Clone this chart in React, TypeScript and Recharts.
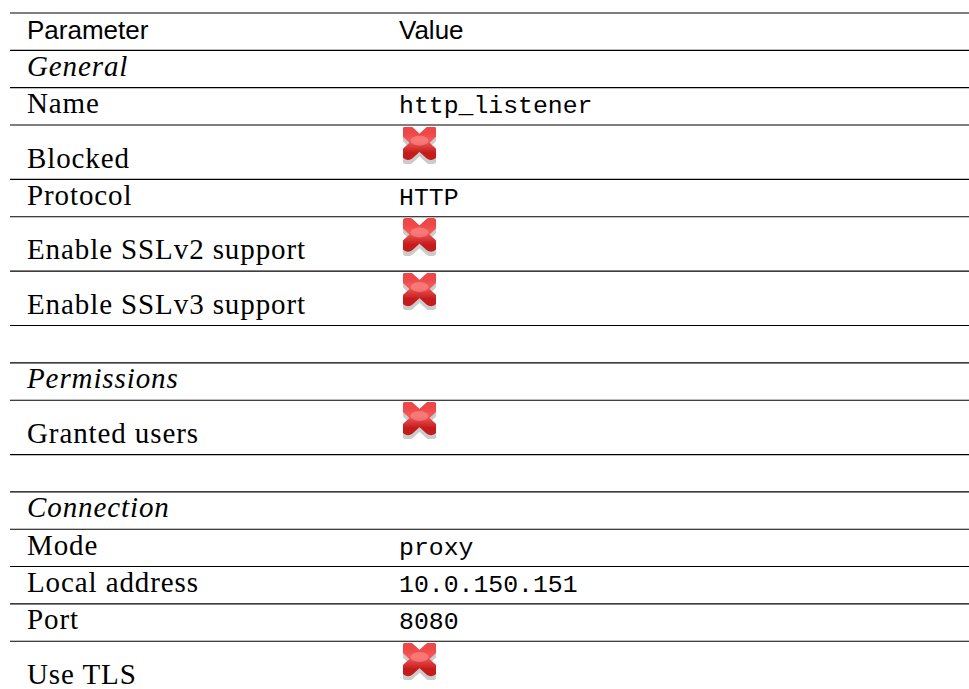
import React from 'react';
import { ComposedChart, Scatter, XAxis, YAxis, ReferenceLine } from 'recharts';

// ---- table content ----
const parameters: string[] = [
  'Parameter',
  'General',
  'Name',
  'Blocked',
  'Protocol',
  'Enable SSLv2 support',
  'Enable SSLv3 support',
  '',
  'Permissions',
  'Granted users',
  '',
  'Connection',
  'Mode',
  'Local address',
  'Port',
  'Use TLS',
];

// false = red cross icon, null = empty cell
const values: (string | boolean | null)[] = [
  'Value',
  null,
  'http_listener',
  false,
  'HTTP',
  false,
  false,
  null,
  null,
  false,
  null,
  null,
  'proxy',
  '10.0.150.151',
  '8080',
  false,
];

const sectionTitles: string[] = ['General', 'Permissions', 'Connection'];

// ---- layout constants ----
const WIDTH = 969;
const HEIGHT = 689;
const ROW_PX = 37.33;
const ICON_ROW_UNITS = 54.4 / 37.33;
const TOP = 13;
const LEFT = 10;

const rowUnits = values.map((v) => (v === false ? ICON_ROW_UNITS : 1));
const bottoms: number[] = [];
rowUnits.reduce((acc, u) => {
  const b = acc + u;
  bottoms.push(b);
  return b;
}, 0);
const totalUnits = bottoms[bottoms.length - 1];
const boundaries = [0, ...bottoms];

const rows = parameters.map((p, i) => ({
  x: 0,
  y: bottoms[i],
  param: p,
  value: values[i],
  kind: i === 0 ? 'header' : sectionTitles.includes(p) ? 'section' : 'row',
}));

const CHART_H = Math.ceil(TOP + totalUnits * ROW_PX + 6);

const SERIF = '"Liberation Serif", "Times New Roman", serif';
const SANS = '"Liberation Sans", Arial, sans-serif';
const MONO = '"Liberation Mono", "Courier New", monospace';

const CrossIcon = ({ x, y }: { x: number; y: number }) => {
  const d = 'M7 7 L30 28 M30 7 L7 28';
  return (
    <g transform={`translate(${x},${y})`} filter="url(#crossSoft)">
      <g transform="translate(0,5)" opacity={0.55}>
        <path d={d} stroke="#a0a0a0" strokeWidth={13} strokeLinecap="round" fill="none" />
      </g>
      <path d={d} stroke="url(#crossGrad)" strokeWidth={13.5} strokeLinecap="round" fill="none" />
      <ellipse cx={18.5} cy={15.5} rx={9} ry={5} fill="#ff9a9a" opacity={0.5} />
    </g>
  );
};

const RowShape = (props: any) => {
  const { cx, cy, payload } = props;
  if (cx == null || cy == null || !payload) return <g />;
  const base = cy - 11.8;
  const px = cx + 17;
  const vx = cx + 389;
  const kind = payload.kind;
  const textStyle = { letterSpacing: 0.9 } as React.CSSProperties;
  let paramEl: React.ReactNode = null;
  if (kind === 'header') {
    paramEl = (
      <text x={px} y={base} fontFamily={SANS} fontSize={26} fill="#000">
        {payload.param}
      </text>
    );
  } else if (payload.param) {
    paramEl = (
      <text
        x={px}
        y={base}
        fontFamily={SERIF}
        fontSize={29}
        fontStyle={kind === 'section' ? 'italic' : 'normal'}
        fill="#000"
        style={textStyle}
      >
        {payload.param}
      </text>
    );
  }
  let valueEl: React.ReactNode = null;
  const v = payload.value;
  if (kind === 'header') {
    valueEl = (
      <text x={vx} y={base} fontFamily={SANS} fontSize={26} fill="#000">
        {v}
      </text>
    );
  } else if (v === false) {
    const rowTop = cy - ICON_ROW_UNITS * ROW_PX;
    valueEl = <CrossIcon x={vx + 2} y={rowTop + 0.3} />;
  } else if (typeof v === 'string') {
    valueEl = (
      <text x={vx} y={base} fontFamily={MONO} fontSize={24.8} fill="#000">
        {v}
      </text>
    );
  }
  return (
    <g>
      {paramEl}
      {valueEl}
    </g>
  );
};

export default function App() {
  return (
    <div
      style={{
        position: 'fixed',
        left: 0,
        top: 0,
        width: WIDTH,
        height: HEIGHT,
        overflow: 'hidden',
        background: '#fff',
      }}
    >
      <ComposedChart
        width={WIDTH}
        height={CHART_H}
        data={rows}
        margin={{ top: TOP, right: 0, left: LEFT, bottom: CHART_H - TOP - totalUnits * ROW_PX }}
      >
        <defs>
          <linearGradient id="crossGrad" x1="0" y1="0" x2="0" y2="1">
            <stop offset="0%" stopColor="#ee4646" />
            <stop offset="40%" stopColor="#f25a5a" />
            <stop offset="100%" stopColor="#c41a1a" />
          </linearGradient>
          <filter id="crossSoft" x="-20%" y="-20%" width="140%" height="140%">
            <feGaussianBlur stdDeviation={0.7} />
          </filter>
        </defs>
        <XAxis type="number" dataKey="x" domain={[0, 1]} hide allowDataOverflow />
        <YAxis type="number" dataKey="y" domain={[0, totalUnits]} reversed hide allowDataOverflow />
        {boundaries.map((b, i) => (
          <ReferenceLine key={i} y={b} stroke="#000" strokeWidth={1.1} ifOverflow="extendDomain" />
        ))}
        <Scatter data={rows} dataKey="y" shape={RowShape} isAnimationActive={false} />
      </ComposedChart>
    </div>
  );
}
